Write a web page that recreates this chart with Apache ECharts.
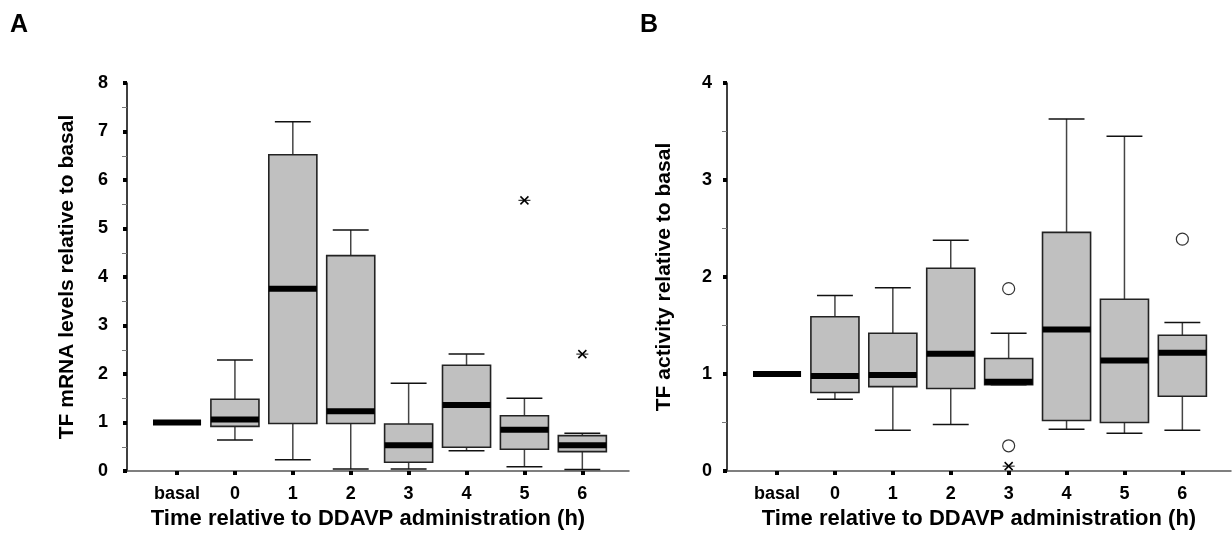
<!DOCTYPE html>
<html>
<head>
<meta charset="utf-8">
<script src="https://cdn.jsdelivr.net/npm/echarts@6/dist/echarts.min.js"></script>
<style>
  html, body { margin: 0; padding: 0; background: #fff; }
  #main { width: 1232px; height: 544px; }
</style>
</head>
<body>
<div id="main"></div>
<script>
var categories = ['basal', '0', '1', '2', '3', '4', '5', '6'];

// A: TF mRNA
var aLow = [null, 0.64, 0.23, 0.04, 0.04, 0.42, 0.09, 0.03];
var aQ1 = [null, 0.92, 0.98, 0.98, 0.18, 0.49, 0.45, 0.40];
var aMed = [1.0, 1.06, 3.76, 1.23, 0.53, 1.36, 0.85, 0.53];
var aQ3 = [null, 1.48, 6.52, 4.44, 0.97, 2.18, 1.14, 0.73];
var aHigh = [null, 2.29, 7.2, 4.97, 1.81, 2.41, 1.50, 0.78];
var aStars = [[6, 5.58], [7, 2.41]];

// B: TF activity
var bLow = [null, 0.74, 0.42, 0.48, 0.89, 0.43, 0.39, 0.42];
var bQ1 = [null, 0.81, 0.87, 0.85, 0.89, 0.52, 0.50, 0.77];
var bMed = [1.0, 0.98, 0.99, 1.21, 0.92, 1.46, 1.14, 1.22];
var bQ3 = [null, 1.59, 1.42, 2.09, 1.16, 2.46, 1.77, 1.40];
var bHigh = [null, 1.81, 1.89, 2.38, 1.42, 3.63, 3.45, 1.53];
var bCircles = [[4, 1.88], [4, 0.26], [7, 2.39]];
var bStars = [[4, 0.05]];

var tickIdx = [0, 1, 2, 3, 4, 5, 6, 7];
var font = 'Liberation Sans, Arial, sans-serif';

function boxData(low, q1, med, q3, high) {
    var out = [];
    for (var i = 0; i < med.length; i++) {
        out.push([i, low[i], q1[i], med[i], q3[i], high[i]]);
    }
    return out;
}

function renderBox(params, api) {
    var x = api.value(0);
    var band = api.size([1, 0])[0];
    var bw = band * 0.83 / 2;   // 盒子半宽
    var cw = band * 0.62 / 2;   // 须线端帽半宽
    var m = api.coord([x, api.value(3)]);
    var kids = [];
    if (api.value(1) != null && !isNaN(api.value(1))) {
        var lo = api.coord([x, api.value(1)]);
        var q1 = api.coord([x, api.value(2)]);
        var q3 = api.coord([x, api.value(4)]);
        var hi = api.coord([x, api.value(5)]);
        var ws = { stroke: '#444', lineWidth: 1.5 };
        var cs = { stroke: '#111', lineWidth: 1.5 };
        kids.push({ type: 'line', shape: { x1: lo[0], y1: lo[1], x2: q1[0], y2: q1[1] }, style: ws });
        kids.push({ type: 'line', shape: { x1: q3[0], y1: q3[1], x2: hi[0], y2: hi[1] }, style: ws });
        kids.push({ type: 'line', shape: { x1: lo[0] - cw, y1: lo[1], x2: lo[0] + cw, y2: lo[1] }, style: cs });
        kids.push({ type: 'line', shape: { x1: hi[0] - cw, y1: hi[1], x2: hi[0] + cw, y2: hi[1] }, style: cs });
        kids.push({
            type: 'rect',
            shape: { x: q3[0] - bw, y: q3[1], width: bw * 2, height: q1[1] - q3[1] },
            style: { fill: '#c0c0c0', stroke: '#222', lineWidth: 1.6 }
        });
    }
    kids.push({
        type: 'line',
        shape: { x1: m[0] - bw, y1: m[1], x2: m[0] + bw, y2: m[1] },
        style: { stroke: '#000', lineWidth: 6 }
    });
    return { type: 'group', children: kids };
}

function renderStar(params, api) {
    var p = api.coord([api.value(0), api.value(1)]);
    var s = 5;
    var st = { stroke: '#000', lineWidth: 1.5 };
    return {
        type: 'group',
        children: [
            { type: 'line', shape: { x1: p[0] - s - 1, y1: p[1], x2: p[0] + s + 1, y2: p[1] }, style: { stroke: '#333', lineWidth: 1.2 } },
            { type: 'line', shape: { x1: p[0] - s + 1, y1: p[1] - s + 1, x2: p[0] + s - 1, y2: p[1] + s - 1 }, style: st },
            { type: 'line', shape: { x1: p[0] - s + 1, y1: p[1] + s - 1, x2: p[0] + s - 1, y2: p[1] - s + 1 }, style: st }
        ]
    };
}

function xAxisCfg(idx, max, padRight) {
    return {
        gridIndex: idx,
        type: 'value',
        min: -0.864,
        max: max,
        name: 'Time relative to DDAVP administration (h)',
        nameLocation: 'middle',
        nameGap: 37,
        nameTextStyle: { fontFamily: font, fontWeight: 'bold', fontSize: 22, color: '#000', padding: [0, padRight, 0, 0] },
        axisLine: { onZero: false, lineStyle: { color: '#555', width: 1.5 } },
        axisTick: { show: true, customValues: tickIdx, length: 4, lineStyle: { color: '#000', width: 4 } },
        axisLabel: {
            customValues: tickIdx,
            margin: 14,
            fontFamily: font, fontWeight: 'bold', fontSize: 18, color: '#000',
            formatter: function (v) { return categories[Math.round(v)]; }
        },
        splitLine: { show: false }
    };
}

function yAxisCfg(idx, max, name, gap, lm) {
    return {
        gridIndex: idx,
        type: 'value',
        min: 0,
        max: max,
        interval: 1,
        name: name,
        nameLocation: 'middle',
        nameGap: gap,
        nameTextStyle: { fontFamily: font, fontWeight: 'bold', fontSize: 21, color: '#000' },
        axisLine: { show: true, onZero: false, lineStyle: { color: '#000', width: 1.5 } },
        axisTick: { show: true, length: 4, lineStyle: { color: '#000', width: 4 } },
        minorTick: { show: true, splitNumber: 2, length: 5, lineStyle: { color: '#777', width: 1 } },
        axisLabel: { margin: lm, fontFamily: font, fontWeight: 'bold', fontSize: 18, color: '#000' },
        splitLine: { show: false }
    };
}

var myChart = echarts.init(document.getElementById('main'));
var option = {
    animation: false,
    backgroundColor: '#fff',
    title: [
        { text: 'A', left: 5, top: 8, textStyle: { fontFamily: font, fontWeight: 'bold', fontSize: 25, color: '#000' } },
        { text: 'B', left: 635, top: 8, textStyle: { fontFamily: font, fontWeight: 'bold', fontSize: 25, color: '#000' } }
    ],
    grid: [
        { left: 127, right: 603, top: 83, bottom: 73 },
        { left: 727, right: 1, top: 83, bottom: 73 }
    ],
    xAxis: [xAxisCfg(0, 7.806, 20), xAxisCfg(1, 7.84, 0)],
    yAxis: [
        yAxisCfg(0, 8, 'TF mRNA levels relative to basal', 49, 19),
        yAxisCfg(1, 4, 'TF activity relative to basal', 52, 15)
    ],
    series: [
        {
            type: 'custom', xAxisIndex: 0, yAxisIndex: 0,
            renderItem: renderBox,
            encode: { x: 0, y: [1, 2, 3, 4, 5] },
            data: boxData(aLow, aQ1, aMed, aQ3, aHigh)
        },
        {
            type: 'custom', xAxisIndex: 0, yAxisIndex: 0,
            renderItem: renderStar,
            encode: { x: 0, y: 1 },
            data: aStars
        },
        {
            type: 'custom', xAxisIndex: 1, yAxisIndex: 1,
            renderItem: renderBox,
            encode: { x: 0, y: [1, 2, 3, 4, 5] },
            data: boxData(bLow, bQ1, bMed, bQ3, bHigh)
        },
        {
            type: 'scatter', xAxisIndex: 1, yAxisIndex: 1,
            symbol: 'circle',
            symbolSize: 12,
            itemStyle: { color: '#fff', borderColor: '#000', borderWidth: 1.2 },
            data: bCircles
        },
        {
            type: 'custom', xAxisIndex: 1, yAxisIndex: 1,
            renderItem: renderStar,
            encode: { x: 0, y: 1 },
            data: bStars
        }
    ]
};
myChart.setOption(option);
</script>
</body>
</html>
